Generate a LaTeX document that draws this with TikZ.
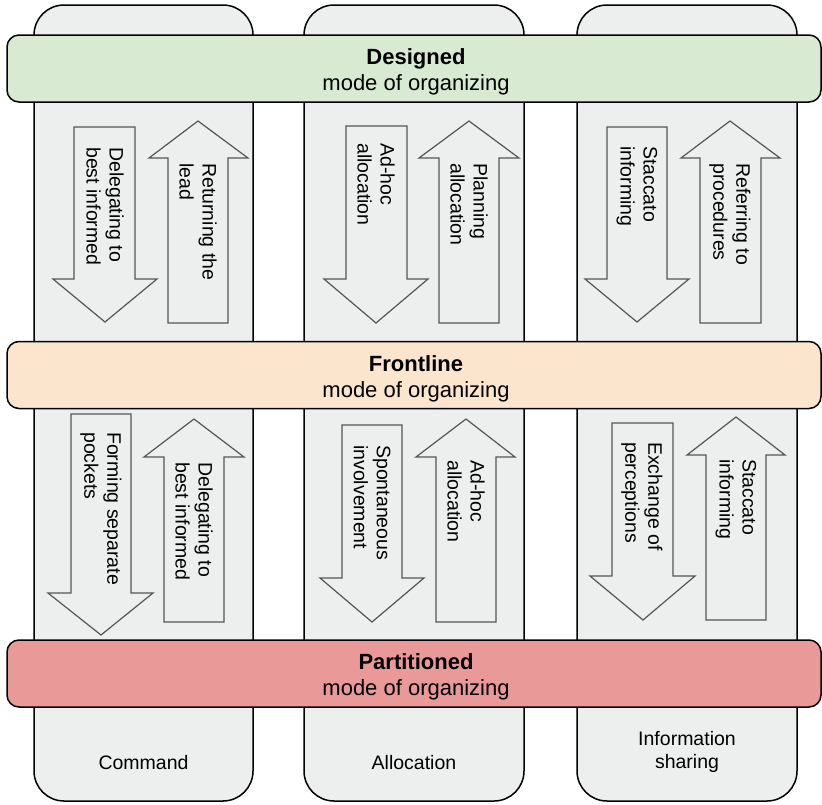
\documentclass[tikz,border=0pt]{standalone}
\usepackage{fontspec}
\setmainfont{Liberation Sans}
\definecolor{colfill}{HTML}{EDEEEE}
\definecolor{designedfill}{HTML}{D9EAD3}
\definecolor{frontfill}{HTML}{FCE5CD}
\definecolor{partfill}{HTML}{EA9999}
\definecolor{arrline}{HTML}{555555}
\begin{document}
\begin{tikzpicture}[x=1pt,y=-1pt,
  colbox/.style={draw=black, line width=1.5pt, fill=colfill, rounded corners=30pt},
  band/.style={draw=black, line width=1.5pt, rounded corners=12pt, minimum width=814pt, minimum height=67pt, inner sep=0pt},
  bandtext/.style={inner sep=0pt, align=center, font=\fontsize{22}{26}\selectfont},
  blockarrow/.style={draw=arrline, line width=1.2pt, fill=colfill, line join=miter},
  arrtext/.style={rotate=-90, anchor=west, inner sep=0pt, align=left, font=\fontsize{19.5}{23}\selectfont},
  collabel/.style={anchor=north, inner sep=0pt, align=center, font=\fontsize{19.5}{23.5}\selectfont}]
\useasboundingbox (0,0) rectangle (822,804);
% columns
\draw[colbox] (34,5) rectangle (253,801);
\draw[colbox] (304,5) rectangle (524,801);
\draw[colbox] (577,5) rectangle (797,801);
% column labels
\node[collabel] (lcommand) at (143.5,755) {Command};
\node[collabel] (lalloc) at (414,755) {Allocation};
\node[collabel] (linfo) at (687,731) {Information\\sharing};
% bands
\node[band, fill=designedfill] (designed) at (414,68.5) {};
\node[bandtext] (designedtext) at (416,72) {\textbf{Designed}\\mode of organizing};
\node[band, fill=frontfill] (frontline) at (414,375) {};
\node[bandtext] (frontlinetext) at (416,378.5) {\textbf{Frontline}\\mode of organizing};
\node[band, fill=partfill] (partitioned) at (414,673.5) {};
\node[bandtext] (partitionedtext) at (416,677) {\textbf{Partitioned}\\mode of organizing};
% upper arrows
\draw[blockarrow] (74,127) -- (135,127) -- (135,279) -- (157,279) -- (105,322) -- (53,279) -- (74,279) -- cycle;
\node[arrtext] (a1) at (105,147) {Delegating to\\best informed};
\draw[blockarrow] (168,323) -- (228,323) -- (228,158) -- (248,158) -- (198,121) -- (149,158) -- (168,158) -- cycle;
\node[arrtext] (a2) at (198,163) {Returning the\\lead};
\draw[blockarrow] (346,126) -- (407,126) -- (407,279) -- (428,279) -- (376,323) -- (324,279) -- (346,279) -- cycle;
\node[arrtext] (a3) at (376,143) {Ad-hoc\\allocation};
\draw[blockarrow] (439,323) -- (499,323) -- (499,158) -- (519,158) -- (469,121) -- (419,158) -- (439,158) -- cycle;
\node[arrtext] (a4) at (469,163) {Planning\\allocation};
\draw[blockarrow] (607,127) -- (667,127) -- (667,279) -- (689,279) -- (637,322) -- (585,279) -- (607,279) -- cycle;
\node[arrtext] (a5) at (637,146) {Staccato\\informing};
\draw[blockarrow] (700,323) -- (761,323) -- (761,158) -- (780,158) -- (730,121) -- (681,158) -- (700,158) -- cycle;
\node[arrtext] (a6) at (730,163) {Referring to\\procedures};
% lower arrows
\draw[blockarrow] (71,414) -- (131,414) -- (131,593) -- (153,593) -- (101,635) -- (48,593) -- (71,593) -- cycle;
\node[arrtext] (b1) at (101,432) {Forming separate\\pockets};
\draw[blockarrow] (164,622) -- (224,622) -- (224,457) -- (244,457) -- (194,419) -- (144,457) -- (164,457) -- cycle;
\node[arrtext] (b2) at (194,462) {Delegating to\\best informed};
\draw[blockarrow] (342,425) -- (402,425) -- (402,578) -- (424,578) -- (372,622) -- (320,578) -- (342,578) -- cycle;
\node[arrtext] (b3) at (372,445) {Spontaneous\\involvement};
\draw[blockarrow] (436,622) -- (496,622) -- (496,457) -- (515,457) -- (466,419) -- (416,457) -- (436,457) -- cycle;
\node[arrtext] (b4) at (466,460) {Ad-hoc\\allocation};
\draw[blockarrow] (612,423) -- (673,423) -- (673,576) -- (695,576) -- (643,620) -- (590,576) -- (612,576) -- cycle;
\node[arrtext] (b5) at (642,442) {Exchange of\\perceptions};
\draw[blockarrow] (706,620) -- (766,620) -- (766,455) -- (785,455) -- (736,417) -- (687,455) -- (706,455) -- cycle;
\node[arrtext] (b6) at (736,459) {Staccato\\informing};
\end{tikzpicture}
\end{document}
